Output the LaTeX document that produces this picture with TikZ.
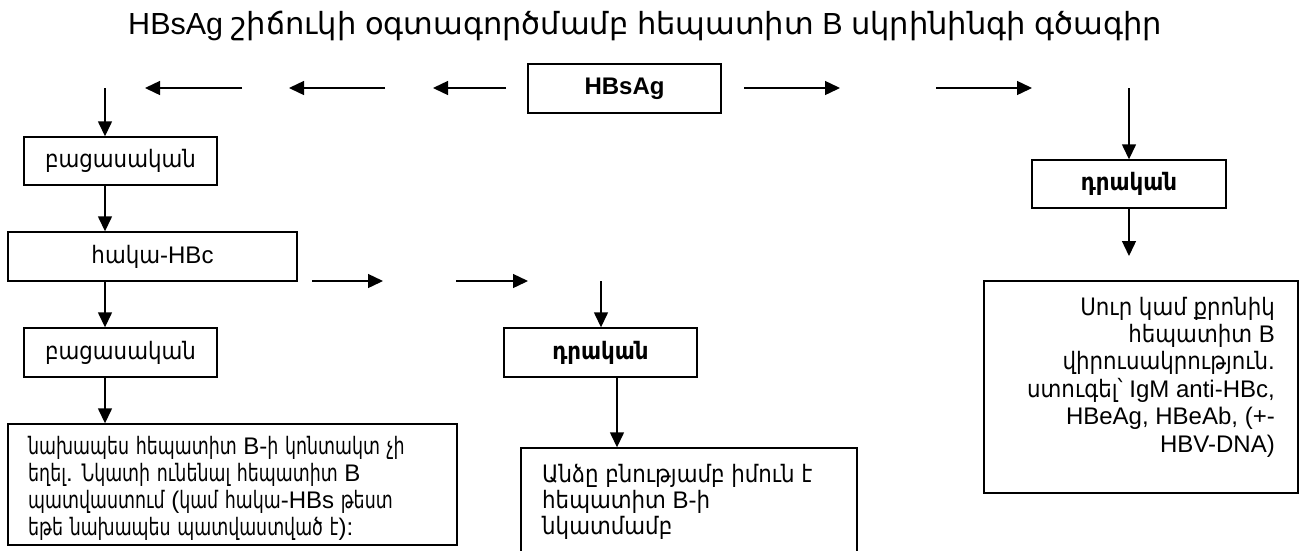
\documentclass[tikz,border=0pt]{standalone}
\usepackage{fontspec}
\setmainfont{Liberation Sans}
\newfontfamily\armfont[FakeStretch=0.89]{DejaVu Sans}
\newfontfamily\armnarrow[FakeStretch=0.725]{DejaVu Sans}
\newfontfamily\armwide{DejaVu Sans}
\usetikzlibrary{arrows.meta}
\XeTeXinterchartokenstate=1
\newXeTeXintercharclass\ArmClass
\count255="0530
\loop\ifnum\count255<"0590 \XeTeXcharclass\count255=\ArmClass \advance\count255 by 1 \repeat
\XeTeXinterchartoks 0 \ArmClass={\begingroup\armfont}
\XeTeXinterchartoks 4095 \ArmClass={\begingroup\armfont}
\XeTeXinterchartoks \ArmClass 0={\endgroup}
\XeTeXinterchartoks \ArmClass 4095={\endgroup}
\tikzset{
  box/.style={draw, line width=1.4pt, inner sep=0pt, font=\fontsize{24}{27}\selectfont},
  boldbox/.style={box, font=\fontsize{24}{27}\selectfont\bfseries},
  conn/.style={line width=1.4pt, -{Triangle[length=15pt,width=14pt]}},
  txt/.style={inner sep=0pt, font=\fontsize{24}{27}\selectfont},
}
\begin{document}
\begin{tikzpicture}[x=1pt,y=-1pt]
\useasboundingbox (0,0) rectangle (1302,550);
\clip (0,0) rectangle (1302,550);
\fill[white] (0,0) rectangle (1302,550);
% title
\node[inner sep=0pt, anchor=base, font=\fontsize{30.5}{34}\selectfont\let\armfont\armwide] (title) at (645,34)
  {HBsAg շիճուկի օգտագործմամբ հեպատիտ B սկրինինգի գծագիր};
% boxes
\node[boldbox, minimum width=193, minimum height=49] (hbs) at (624.5,88.5) {HBsAg};
\node[box, minimum width=193, minimum height=48] (b1) at (120.5,161) {բացասական};
\node[box, minimum width=289, minimum height=49] (b2) at (152.5,256.5) {հակա-HBc};
\node[box, minimum width=193, minimum height=49] (b3) at (120.5,352.5) {բացասական};
\node[box, minimum width=449, minimum height=121] (b4) at (232.5,484.5) {};
\node[boldbox, minimum width=193, minimum height=49] (m1) at (600.5,352.5) {դրական};
\node[box, minimum width=336, minimum height=112] (m2) at (689,504) {};
\node[boldbox, minimum width=194, minimum height=48] (r1) at (1129,184) {դրական};
\node[box, minimum width=314, minimum height=212] (r2) at (1141,387) {};
% box texts (base anchor = baseline of last line)
\node[txt, anchor=base west, align=left, font=\fontsize{24}{26.7}\selectfont\let\armfont\armnarrow] (b4t) at (28,535)
  {նախապես հեպատիտ B-ի կոնտակտ չի\\եղել. Նկատի ունենալ հեպատիտ B\\պատվաստում (կամ հակա-HBs թեստ\\եթե նախապես պատվաստված է):};
\node[txt, anchor=base west, align=left, font=\fontsize{24}{25.8}\selectfont] (m2t) at (542,534)
  {Անձը բնությամբ իմուն է\\հեպատիտ B-ի\\նկատմամբ};
\node[txt, anchor=base east, align=right, font=\fontsize{24}{27.4}\selectfont] (r2t) at (1275,452)
  {Սուր կամ քրոնիկ\\հեպատիտ B\\վիրուսակրություն.\\ստուգել՝ IgM anti-HBc,\\HBeAg, HBeAb, (+-\\HBV-DNA)};
% free-end coordinates
\coordinate (tl1s) at (506,88); \coordinate (tl1e) at (433,88);
\coordinate (tl2s) at (385,88); \coordinate (tl2e) at (289,88);
\coordinate (tl3s) at (242,88); \coordinate (tl3e) at (145,88);
\coordinate (tr1s) at (744,88); \coordinate (tr1e) at (840,88);
\coordinate (tr2s) at (936,88); \coordinate (tr2e) at (1032,88);
\coordinate (lv) at (105,88);
\coordinate (mh1s) at (312,281); \coordinate (mh1e) at (383,281);
\coordinate (mh2s) at (456,281); \coordinate (mh2e) at (528,281);
\coordinate (mv) at (601,281);
\coordinate (mx) at (617,0);
\coordinate (rv) at (1129,88);
\coordinate (re) at (1129,256);
% connectors
\draw[conn] (tl1s) -- (tl1e);
\draw[conn] (tl2s) -- (tl2e);
\draw[conn] (tl3s) -- (tl3e);
\draw[conn] (tr1s) -- (tr1e);
\draw[conn] (tr2s) -- (tr2e);
\draw[conn] (lv) -- (lv |- b1.north);
\draw[conn] (b1.south -| lv) -- (b2.north -| lv);
\draw[conn] (b2.south -| lv) -- (b3.north -| lv);
\draw[conn] (b3.south -| lv) -- (b4.north -| lv);
\draw[conn] (mh1s) -- (mh1e);
\draw[conn] (mh2s) -- (mh2e);
\draw[conn] (mv) -- (mv |- m1.north);
\draw[conn] (m1.south -| mx) -- (m2.north -| mx);
\draw[conn] (rv) -- (r1.north);
\draw[conn] (r1.south) -- (re);
\end{tikzpicture}
\end{document}
